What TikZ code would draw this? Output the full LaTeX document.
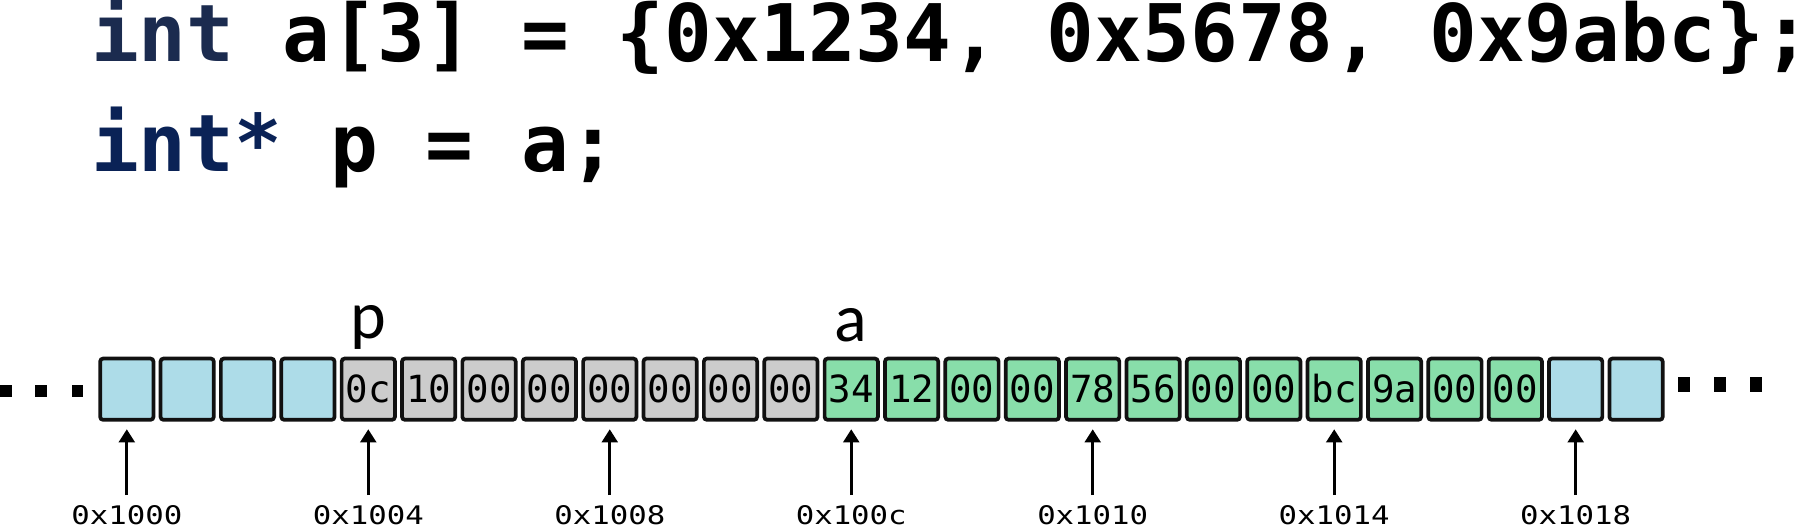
\documentclass[tikz,border=0pt]{standalone}
\usepackage{fontspec}
\usetikzlibrary{arrows.meta}
\newfontfamily\codefont{DejaVu Sans Mono}
\newfontfamily\lblfont[FakeStretch=1.2]{DejaVu Sans Mono}
\newfontfamily\varfont{Carlito}
\definecolor{kwA}{HTML}{1B2B4F}
\definecolor{kwB}{HTML}{0A2256}
\definecolor{memblue}{HTML}{ADDCE8}
\definecolor{memgray}{HTML}{CCCCCC}
\definecolor{memgreen}{HTML}{88DEAA}
\definecolor{memline}{HTML}{111111}
\begin{document}
\begin{tikzpicture}[x=0.5pt,y=-0.5pt,
  cell/.style={draw=memline, line width=1.85pt, rounded corners=1.5pt,
    minimum width=26.65pt, minimum height=30.65pt, inner sep=0pt,
    text height=13.6pt, text depth=0pt,
    font={\codefont\fontsize{18.7pt}{19pt}\selectfont}},
  addr/.style={inner sep=0pt, text height=9.3pt, text depth=0pt,
    font={\lblfont\fontsize{12.8pt}{13pt}\selectfont}},
  ptr/.style={line width=1.35pt, -{Triangle[length=6.6pt,width=8pt]},
    shorten <=5.4pt, shorten >=3.8pt},
  code/.style={inner sep=0pt, font={\codefont\bfseries\fontsize{39.7pt}{40pt}\selectfont}},
  var/.style={inner sep=0pt, font={\varfont\fontsize{34pt}{35pt}\selectfont}},
  dot/.style={fill=black}
]
\useasboundingbox (0,0) rectangle (1809,528);
% code
\node[code, anchor=base west] (line1) at (90.6,62) {\textcolor{kwA}{int} a[3] = \{0x1234, 0x5678, 0x9abc\};};
\node[code, anchor=base west] (line2) at (90.6,172) {\textcolor{kwB}{int*} p = a;};
% memory cells
\foreach \i/\t/\c in {0/{}/memblue,1/{}/memblue,2/{}/memblue,3/{}/memblue,
  4/0c/memgray,5/10/memgray,6/00/memgray,7/00/memgray,8/00/memgray,9/00/memgray,10/00/memgray,11/00/memgray,
  12/34/memgreen,13/12/memgreen,14/00/memgreen,15/00/memgreen,16/78/memgreen,17/56/memgreen,
  18/00/memgreen,19/00/memgreen,20/bc/memgreen,21/9a/memgreen,22/00/memgreen,23/00/memgreen,
  24/{}/memblue,25/{}/memblue}{
  \node[cell, fill=\c] (b\i) at ({126.8+60.37*\i},389.2) {\t};
}
% variable names
\node[var, anchor=base] (pv) at (368.5,339) {p};
\node[var, anchor=base] (av) at (850.5,342) {a};
% addresses
\foreach \j/\lab in {0/0x1000,4/0x1004,8/0x1008,12/0x100c,16/0x1010,20/0x1014,24/0x1018}{
  \node[addr, anchor=base] (l\j) at ({126.8+60.37*\j},525) {\lab};
  \draw[ptr] (l\j.north) -- (b\j.south);
}
% ellipses
\fill[dot] (0,385) rectangle (11.7,397);
\fill[dot] (35,385) rectangle (47,397);
\fill[dot] (71.5,385) rectangle (83.2,397);
\fill[dot] (1678,377.3) rectangle (1689.7,391.7);
\fill[dot] (1714,377.3) rectangle (1725.7,391.7);
\fill[dot] (1750,377.3) rectangle (1761.7,391.7);
\end{tikzpicture}
\end{document}
